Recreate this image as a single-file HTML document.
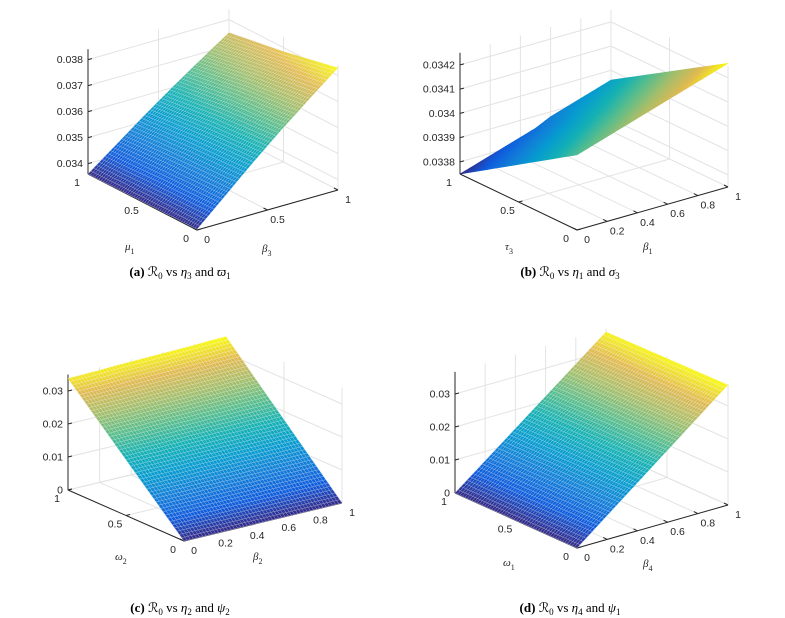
<!DOCTYPE html>
<html><head><meta charset="utf-8">
<style>
html,body{margin:0;padding:0;background:#fff;}
svg{display:block;}
text{font-family:"Liberation Sans",sans-serif;font-size:10.5px;fill:#262626;}
.cap{font-family:"Liberation Serif","DejaVu Serif",serif;font-size:13px;fill:#000;}
.lab{font-family:"Liberation Serif","DejaVu Serif",serif;font-style:italic;font-size:11px;fill:#262626;}
</style></head>
<body>
<svg id="fig" width="785" height="618" viewBox="0 0 785 618"></svg>
<script>
// ---- data ----
const gridX = [0,0.1,0.2,0.3,0.4,0.5,0.6,0.7,0.8,0.9,1];
const gridY = [0,0.5,1];
// panel a: R0 vs beta3 (x) and mu1 (y)
const zA_y0  = [0.03363,0.03412,0.03461,0.03511,0.03560,0.03607,0.03654,0.03698,0.03743,0.03787,0.03830];
const zA_y05 = [0.03362,0.03408,0.03454,0.03500,0.03546,0.03590,0.03634,0.03675,0.03715,0.03752,0.03785];
const zA_y1  = [0.03360,0.03401,0.03442,0.03483,0.03524,0.03563,0.03602,0.03640,0.03677,0.03714,0.03750];
// panel b: beta1 (x), tau3 (y)
const zB_y0  = [0.03406,0.03408,0.03410,0.03412,0.03414,0.03416,0.03418,0.03420,0.03422,0.03424,0.03426];
const zB_y05 = [0.033905,0.033926,0.033946,0.033967,0.033987,0.034008,0.034028,0.034049,0.034069,0.034090,0.034110];
const zB_y1  = [0.03375,0.03377,0.03379,0.03381,0.03383,0.03385,0.03388,0.03390,0.03392,0.03394,0.03396];
// panel c: beta2 (x), omega2 (y)
const zC_y0  = [0,0,0,0,0,0,0,0,0,0,0];
const zC_y05 = [0.0169,0.0170,0.0170,0.0171,0.0172,0.0172,0.0173,0.0173,0.0174,0.0174,0.0175];
const zC_y1  = [0.0338,0.0339,0.0340,0.0342,0.0343,0.0344,0.0345,0.0346,0.0347,0.0349,0.0350];
// panel d: beta4 (x), omega1 (y)
const zD_y0  = [0,0.00364,0.00728,0.01092,0.01456,0.0182,0.02184,0.02548,0.02912,0.03276,0.0364];
const zD_y05 = [0,0.00361,0.00722,0.01083,0.01444,0.0181,0.02166,0.02527,0.02888,0.03249,0.0361];
const zD_y1  = [0,0.00358,0.00716,0.01074,0.01432,0.0179,0.02148,0.02506,0.02864,0.03222,0.0358];
const ticksA_x=[0,0.5,1], ticksA_y=[0,0.5,1], ticksA_z=[0.034,0.035,0.036,0.037,0.038];
const ticksB_x=[0,0.2,0.4,0.6,0.8,1], ticksB_y=[0,0.5,1], ticksB_z=[0.0338,0.0339,0.034,0.0341,0.0342];
const ticksC_x=[0,0.2,0.4,0.6,0.8,1], ticksC_y=[0,0.5,1], ticksC_z=[0,0.01,0.02,0.03];
const ticksD_x=[0,0.2,0.4,0.6,0.8,1], ticksD_y=[0,0.5,1], ticksD_z=[0,0.01,0.02,0.03];

const NS="http://www.w3.org/2000/svg";
const svg=document.getElementById('fig');
function mk(tag,attrs,parent){const e=document.createElementNS(NS,tag);for(const k in attrs)e.setAttribute(k,attrs[k]);(parent||svg).appendChild(e);return e;}
const PAR=[[0,53,42,135],[0.125,15,92,221],[0.25,18,125,216],[0.375,7,156,207],[0.5,21,177,180],[0.625,89,189,140],[0.75,165,190,107],[0.875,225,185,82],[1,249,251,14]];
function parula(t){t=Math.max(0,Math.min(1,t));for(let i=1;i<PAR.length;i++){if(t<=PAR[i][0]){const a=PAR[i-1],b=PAR[i],f=(t-a[0])/(b[0]-a[0]);return [0,1,2].map(j=>Math.round(a[j+1]+(b[j+1]-a[j+1])*f));}}return [249,251,14];}
function fmt(v){return String(+v.toFixed(5));}

function panel(cfg){
  const g=mk('g',{});
  
  
  const O=cfg.O,X=cfg.X1,Y=cfg.Y1,k=cfg.k,z0=cfg.zmin,z1=cfg.zmax;
  const P=(x,y,z)=>[O[0]+x*(X[0]-O[0])+y*(Y[0]-O[0]), O[1]+x*(X[1]-O[1])+y*(Y[1]-O[1])-(z-z0)*k];
  const line=(a,b,st,w,name)=>{const l=mk('line',{x1:a[0],y1:a[1],x2:b[0],y2:b[1],stroke:st,'stroke-width':w},g);return l;};
  const GC='#e3e3e3';
  cfg.tx.forEach(x=>{line(P(x,0,z0),P(x,1,z0),GC,1,'floor-grid-x');line(P(x,1,z0),P(x,1,z1),GC,1,'wall-grid-x');});
  cfg.ty.forEach(y=>{line(P(0,y,z0),P(1,y,z0),GC,1,'floor-grid-y');line(P(1,y,z0),P(1,y,z1),GC,1,'wall-grid-y');});
  cfg.tz.forEach(z=>{line(P(0,1,z),P(1,1,z),GC,1,'wall-grid-z');line(P(1,1,z),P(1,0,z),GC,1,'wall-grid-z');});
  const AC='#262626';
  line(P(0,1,z0),P(0,1,z1),AC,1,'z-axis');
  line(P(0,1,z0),P(0,0,z0),AC,1,'y-axis');
  line(P(0,0,z0),P(1,0,z0),AC,1,'x-axis');
  cfg.tz.forEach(z=>{const p=P(0,1,z);line(p,[p[0]+4,p[1]-1],AC,1,'z-tick');const t=mk('text',{x:p[0]-5,y:p[1]+3.5,'text-anchor':'end'},g);t.textContent=fmt(z);});
  cfg.ty.forEach(y=>{const p=P(0,y,z0);line(p,[p[0]+4,p[1]-1],AC,1,'y-tick');const t=mk('text',{x:p[0]-11,y:p[1]+12,'text-anchor':'middle'},g);t.textContent=fmt(y);});
  cfg.tx.forEach(x=>{const p=P(x,0,z0);line(p,[p[0]-4,p[1]-2],AC,1,'x-tick');const t=mk('text',{x:p[0]+10,y:p[1]+13,'text-anchor':'middle'},g);t.textContent=fmt(x);});
  const rows=cfg.rows;
  const zs=[].concat(...rows),zmn=Math.min(...zs),zmx=Math.max(...zs);
  const zAt=(x,y)=>{
    let i=Math.min(gridX.length-2,Math.floor(x*10)); const fx=(x-gridX[i])/(gridX[i+1]-gridX[i]);
    let j=y<=0.5?0:1; const fy=(y-gridY[j])/(gridY[j+1]-gridY[j]);
    const a=rows[j][i]+(rows[j][i+1]-rows[j][i])*fx, b=rows[j+1][i]+(rows[j+1][i+1]-rows[j+1][i])*fx;
    return a+(b-a)*fy;};
  const N=cfg.mesh?50:30;
  const sg=mk('g',{},g);
  
  
  const cells=[];
  for(let i=0;i<N;i++)for(let j=0;j<N;j++)cells.push([i,j]);
  cells.sort((a,b)=>(b[0]+b[1])-(a[0]+a[1]));
  cells.forEach(([i,j])=>{
    const x0=i/N,x1=(i+1)/N,y0=j/N,y1=(j+1)/N;
    const c=[[x0,y0],[x1,y0],[x1,y1],[x0,y1]];
    const pts=c.map(([x,y])=>P(x,y,zAt(x,y)).map(v=>v.toFixed(2)).join(',')).join(' ');
    const zc=zAt((x0+x1)/2,(y0+y1)/2);
    const col=parula((zc-zmn)/(zmx-zmn));
    const fill=`rgb(${col[0]},${col[1]},${col[2]})`;
    const st=cfg.mesh?`rgb(${Math.round(col[0]*0.5+127)},${Math.round(col[1]*0.5+127)},${Math.round(col[2]*0.5+127)})`:fill;
    const p=mk('polygon',{points:pts,fill:fill,stroke:st,'stroke-width':cfg.mesh?0.5:0.6},sg);
    
    
  });
  const mkLab=(pos,sym,sub,name)=>{const t=mk('text',{x:pos[0],y:pos[1],class:'lab'},g);t.textContent=sym;const s=mk('tspan',{dy:4,'font-size':8,'font-style':'normal'},t);s.textContent=sub;};
  mkLab(cfg.ylab,cfg.ysym,cfg.ysub,'y-axis-title');
  mkLab(cfg.xlab,cfg.xsym,cfg.xsub,'x-axis-title');
  const c=mk('text',{x:cfg.cap[0],y:cfg.cap[1],class:'cap','text-anchor':'middle'},g);
  
  
  c.innerHTML=`<tspan font-weight="bold">(${cfg.letter})</tspan> ℛ<tspan font-size="9" dy="3">0</tspan><tspan dy="-3"> vs </tspan><tspan font-style="italic">η</tspan><tspan font-size="9" dy="3">${cfg.c1}</tspan><tspan dy="-3"> and </tspan><tspan font-style="italic">${cfg.c2s}</tspan><tspan font-size="9" dy="3">${cfg.c2}</tspan>`;
}

panel({name:'panel-a',O:[197,230],X1:[338,190],Y1:[88,174],k:26000,zmin:0.0336,zmax:0.0384,
  tx:ticksA_x,ty:ticksA_y,tz:ticksA_z,rows:[zA_y0,zA_y05,zA_y1],mesh:true,
  ylab:[125,250],ysym:'μ',ysub:'1',xlab:[262,252],xsym:'β',xsub:'3',cap:[180,276],letter:'a',c1:'3',c2s:'ϖ',c2:'1'});
panel({name:'panel-b',O:[577,230],X1:[728,187],Y1:[460,174],k:242500,zmin:0.03375,zmax:0.03425,
  tx:ticksB_x,ty:ticksB_y,tz:ticksB_z,rows:[zB_y0,zB_y05,zB_y1],mesh:false,
  ylab:[505,250],ysym:'τ',ysub:'3',xlab:[643,250],xsym:'β',xsub:'1',cap:[570,276],letter:'b',c1:'1',c2s:'σ',c2:'3'});
panel({name:'panel-c',O:[184,541],X1:[342,503],Y1:[68,490],k:3300,zmin:0,zmax:0.035,
  tx:ticksC_x,ty:ticksC_y,tz:ticksC_z,rows:[zC_y0,zC_y05,zC_y1],mesh:true,
  ylab:[115,560],ysym:'ω',ysub:'2',xlab:[253,560],xsym:'β',xsub:'2',cap:[180,612],letter:'c',c1:'2',c2s:'ψ',c2:'2'});
panel({name:'panel-d',O:[577,548],X1:[728,505],Y1:[455,493],k:3300,zmin:0,zmax:0.0367,
  tx:ticksD_x,ty:ticksD_y,tz:ticksD_z,rows:[zD_y0,zD_y05,zD_y1],mesh:true,
  ylab:[503,566],ysym:'ω',ysub:'1',xlab:[643,567],xsym:'β',xsub:'4',cap:[570,612],letter:'d',c1:'4',c2s:'ψ',c2:'1'});
</script>
</body></html>
